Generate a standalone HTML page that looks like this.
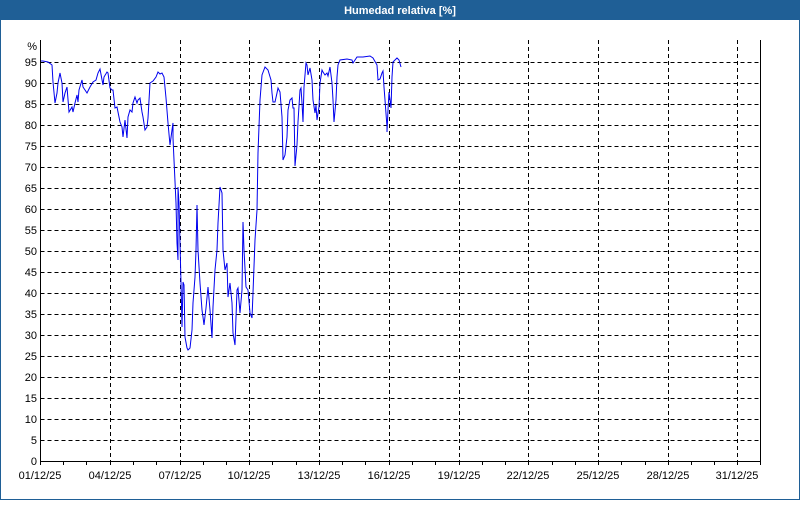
<!DOCTYPE html>
<html><head><style>
body{margin:0;width:800px;height:500px;overflow:hidden;background:#fff;font-family:"Liberation Sans",sans-serif}
</style></head><body>
<svg width="800" height="500" xmlns="http://www.w3.org/2000/svg" font-family="Liberation Sans, sans-serif" font-size="11">
<rect x="0" y="0" width="800" height="500" fill="#1f5f96"/>
<rect x="1" y="20" width="798" height="479" fill="#fff"/>
<text x="400" y="14" fill="#fff" font-weight="bold" text-anchor="middle">Humedad relativa [%]</text>
<g stroke="#000" stroke-dasharray="4,3" stroke-width="1">
<path d="M40.5 440.5H760M40.5 419.5H760M40.5 398.5H760M40.5 377.5H760M40.5 356.5H760M40.5 335.5H760M40.5 314.5H760M40.5 293.5H760M40.5 272.5H760M40.5 251.5H760M40.5 230.5H760M40.5 209.5H760M40.5 188.5H760M40.5 167.5H760M40.5 146.5H760M40.5 125.5H760M40.5 104.5H760M40.5 83.5H760M40.5 62.5H760"/>
<path d="M110.5 40V461M180.5 40V461M249.5 40V461M319.5 40V461M389.5 40V461M459.5 40V461M528.5 40V461M598.5 40V461M668.5 40V461M737.5 40V461"/>
</g>
<path d="M40.5 40V461.5H760.5V40" fill="none" stroke="#000"/>
<g stroke="#000" id="t"></g>
<g fill="#000" text-anchor="end">
<text x="37" y="50">%</text>
<text x="37" y="66">95</text><text x="37" y="87">90</text><text x="37" y="108">85</text><text x="37" y="129">80</text><text x="37" y="150">75</text><text x="37" y="171">70</text><text x="37" y="192">65</text><text x="37" y="213">60</text><text x="37" y="234">55</text><text x="37" y="255">50</text><text x="37" y="276">45</text><text x="37" y="297">40</text><text x="37" y="318">35</text><text x="37" y="339">30</text><text x="37" y="360">25</text><text x="37" y="381">20</text><text x="37" y="402">15</text><text x="37" y="423">10</text><text x="37" y="444">5</text><text x="37" y="465">0</text>
</g>
<g fill="#000" text-anchor="middle">
<text x="40" y="479">01/12/25</text><text x="110" y="479">04/12/25</text><text x="180" y="479">07/12/25</text><text x="249" y="479">10/12/25</text><text x="319" y="479">13/12/25</text><text x="389" y="479">16/12/25</text><text x="459" y="479">19/12/25</text><text x="528" y="479">22/12/25</text><text x="598" y="479">25/12/25</text><text x="668" y="479">28/12/25</text><text x="737" y="479">31/12/25</text>
</g>
<path stroke="#000" d="M40.5 461V465M63.5 461V465M86.5 461V465M110.5 461V465M133.5 461V465M156.5 461V465M180.5 461V465M203.5 461V465M226.5 461V465M249.5 461V465M272.5 461V465M296.5 461V465M319.5 461V465M342.5 461V465M365.5 461V465M389.5 461V465M412.5 461V465M435.5 461V465M459.5 461V465M482.5 461V465M505.5 461V465M528.5 461V465M552.5 461V465M575.5 461V465M598.5 461V465M621.5 461V465M645.5 461V465M668.5 461V465M691.5 461V465M714.5 461V465M737.5 461V465M760.5 461V465"/>
<polyline fill="none" stroke="#0000ee" stroke-width="1" points="41,61 43,61 48,62 52,65 53,82 55,103 57,93 58,83 60,73 62,83 63,102 65,93 67,87 69,112 72,107 73,112 75,103 77,95 78,102 79,90 82,80 83,87 87,93 90,87 93,82 96,80 98,73 100,69 103,85 104,77 107,72 108,73 110,88 112,90 113,90 115,108 117,107 120,122 122,127 123,137 125,120 127,138 128,117 130,110 132,112 133,103 135,97 137,103 138,100 140,98 142,112 143,117 145,130 147,127 148,118 150,83 153,81 156,77 158,72 160,74 162,73 164,77 166,98 168,123 170,145 172,130 173,123 173,138 174,160 176,203 177,243 178,260 178,187 179,203 181,283 182,327 183,282 184,285 185,337 187,348 188,350 190,348 192,330 193,303 195,277 196,250 197,205 198,250 200,283 202,310 203,317 204,325 206,308 208,287 210,310 212,338 213,307 215,270 217,250 218,223 220,187 222,193 223,250 225,270 227,263 228,297 230,283 232,303 233,333 235,345 237,290 238,288 240,313 242,290 243,222 244,250 246,287 248,290 250,313 252,318 253,293 255,240 257,210 258,153 260,100 262,75 265,67 268,70 271,80 272,93 273,102 275,102 277,93 278,88 280,92 282,117 283,160 285,155 287,137 288,110 290,100 292,98 293,108 294,108 295,166 297,145 298,122 300,90 301,88 302,103 303,122 304,87 306,63 307,65 308,75 310,68 312,80 313,100 315,113 316,105 317,120 319,107 320,83 322,70 323,72 325,75 327,73 328,76 330,67 332,83 333,100 334,122 336,100 337,77 338,65 340,60 347,59 352,60 353,63 357,57 363,57 370,56 373,58 377,65 378,80 380,79 382,73 383,71 384,87 385,100 387,127 387,132 388,110 389,92 391,108 392,77 393,62 397,58 399,60 401,67"/>
</svg>
</body></html>
